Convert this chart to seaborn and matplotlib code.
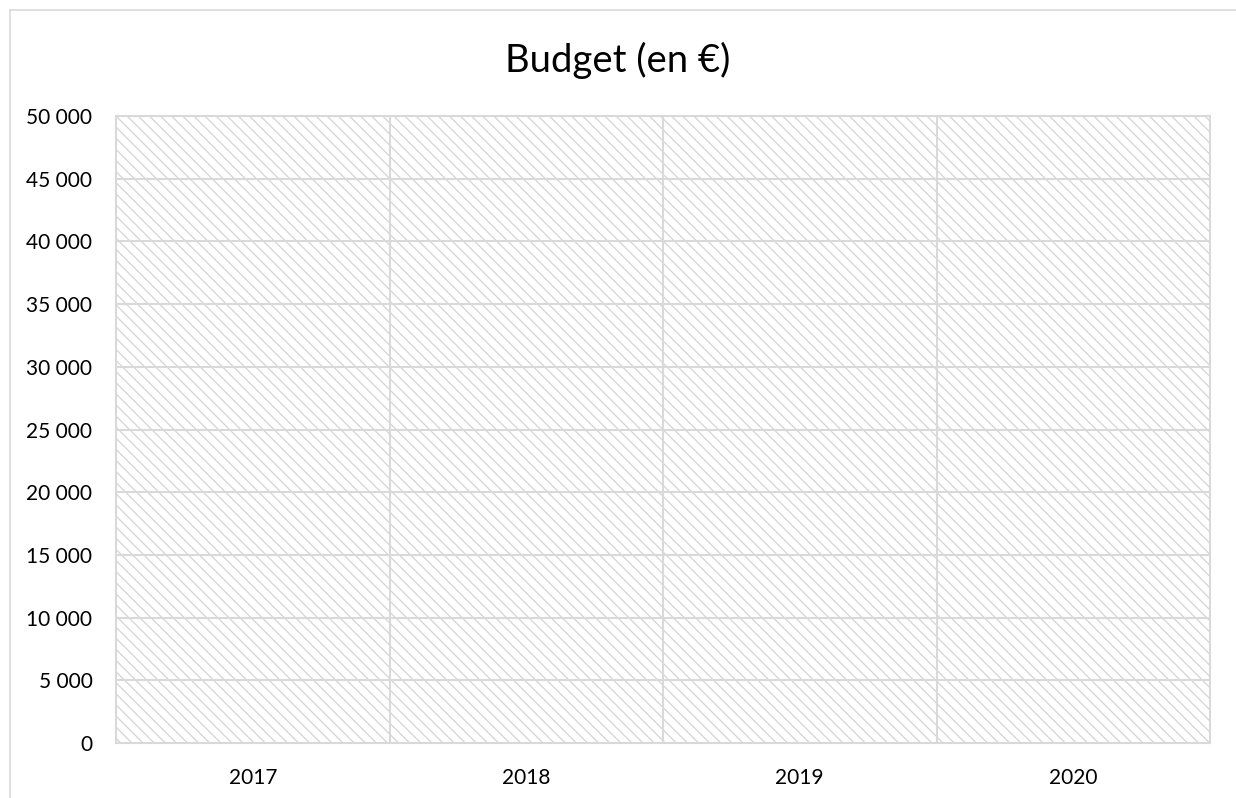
import matplotlib
matplotlib.use("Agg")
import matplotlib.pyplot as plt
from matplotlib.patches import Rectangle
from matplotlib.lines import Line2D
from matplotlib.ticker import FuncFormatter, MultipleLocator
import seaborn as sns
import pandas as pd

years = ["2017", "2018", "2019", "2020"]
budget = [0, 0, 0, 0]
title = "Budget (en €)"

sns.set_theme(style="white")
plt.rcParams['font.family'] = ['Lato', 'DejaVu Sans']
plt.rcParams['hatch.color'] = '#d4d4d4'
plt.rcParams['hatch.linewidth'] = 0.9

grid_c = '#d9d9d9'
fig = plt.figure(figsize=(12.36, 7.98), dpi=100)
ax = fig.add_axes([116/1236, 55/798, (1210-116)/1236, (743-116)/798])

df = pd.DataFrame({"year": years, "budget": budget})
sns.barplot(data=df, x="year", y="budget", ax=ax, color="#4472c4", width=0.6)

# hatched plot area background
bg = Rectangle((0, 0), 1, 1, transform=ax.transAxes, facecolor='white',
               edgecolor='#d4d4d4', linewidth=0, hatch='\\' * 3, zorder=0.5)
ax.add_patch(bg)

ax.set_xlim(-0.5, len(years) - 0.5)
ax.set_ylim(0, 50000)
ax.yaxis.set_major_locator(MultipleLocator(5000))
ax.yaxis.set_major_formatter(FuncFormatter(lambda v, p: f"{int(v):,}".replace(",", " ")))

for y in range(5000, 50001, 5000):
    ax.axhline(y, color=grid_c, lw=1.5, zorder=1)
for i in range(len(years) - 1):
    ax.axvline(i + 0.5, color=grid_c, lw=1.5, zorder=1)

for s in ax.spines.values():
    s.set_color(grid_c)
    s.set_linewidth(1.5)
    s.set_visible(True)

ax.set_xlabel("")
ax.set_ylabel("")
ax.tick_params(axis='both', length=0, labelsize=15, colors='#000000')
ax.tick_params(axis='y', pad=17)
ax.tick_params(axis='x', pad=18)

fig.text(0.5, 1 - 60/798, title, ha='center', va='center', fontsize=27.5, color='#000000')

# outer chart border (partially visible)
fig.add_artist(Line2D([10/1236, 1], [1 - 10/798, 1 - 10/798], transform=fig.transFigure, color=grid_c, lw=1.2))
fig.add_artist(Line2D([10/1236, 10/1236], [0, 1 - 10/798], transform=fig.transFigure, color=grid_c, lw=1.2))

fig.savefig("out.png", dpi=100, facecolor='white')
